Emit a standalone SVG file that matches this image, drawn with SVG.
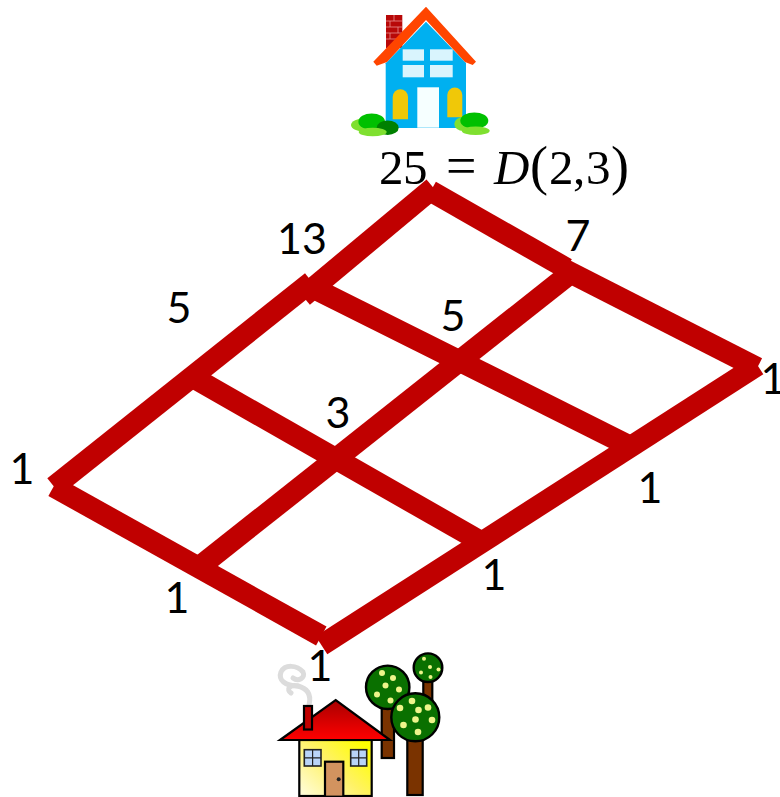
<svg xmlns="http://www.w3.org/2000/svg" width="780" height="797" viewBox="0 0 780 797">
<style>
.n{font-family:"Lato","Open Sans",sans-serif;font-size:43px;fill:#000;text-anchor:middle}
.f{font-family:"Liberation Serif",serif;font-size:49px;fill:#000}
.g{fill:none;stroke:#c00000;stroke-width:21.5;stroke-linecap:butt}
.o{stroke:#000;stroke-width:2.2}
.t{fill:#7a3300;stroke:#000;stroke-width:2.2}
.c{fill:#0a7000;stroke:#000;stroke-width:2.4}
.d{fill:#eef58a}
.w{fill:#b9d4f8;stroke:#222;stroke-width:1.6}
.s{fill:none;stroke:#dcdcdc;stroke-width:5;stroke-linecap:round}
</style>
<defs>
<linearGradient id="roofFill" x1="0" y1="1" x2="0" y2="0"><stop offset="0" stop-color="#ff0000"/><stop offset="1" stop-color="#a80000"/></linearGradient>
<linearGradient id="wallFill" x1="0" y1="1" x2="1" y2="0.2"><stop offset="0" stop-color="#fffde0"/><stop offset="0.55" stop-color="#fff266"/><stop offset="1" stop-color="#ffff00"/></linearGradient>
</defs>

<g id="blue-house">
  <rect x="386" y="15" width="16.3" height="33" fill="#b80808"/>
  <path d="M386 21H402M386 27H402M386 33H402M386 39H402M394 15V21M390 21V27M398 27V33M390 33V39M396 39V46" stroke="#e89090" stroke-width="0.8" fill="none"/>
  <polygon points="385.7,63.3 426,21.7 466,63 466,128 385.7,128" fill="#00b0f0"/>
  <polygon points="426,6.7 476,61.7 472.7,65 465,62 426,20 387,62 376.7,65.7 373.3,61.7" fill="#ff4500"/>
  <g fill="#d9f4fd">
    <rect x="402.7" y="49.3" width="21.3" height="11.4"/>
    <rect x="430" y="49.3" width="22.7" height="11.4"/>
    <rect x="402.7" y="65" width="21.3" height="12.3"/>
    <rect x="430" y="65" width="22.7" height="12.3"/>
  </g>
  <rect x="417.3" y="87.3" width="21.7" height="40.4" fill="#f6ffff"/>
  <path d="M392.7 119.3V97a7.6 7.6 0 0 1 15.3 0V119.3Z" fill="#f0c808"/>
  <path d="M447.3 117.3V95a7.5 7.5 0 0 1 15 0V117.3Z" fill="#f0c808"/>
  <ellipse cx="365" cy="125" rx="14" ry="6.7" fill="#7fe030"/>
  <ellipse cx="371.7" cy="121.7" rx="13.3" ry="8.3" fill="#00c000"/>
  <ellipse cx="387.7" cy="127.7" rx="11" ry="7.3" fill="#008000"/>
  <ellipse cx="372.7" cy="132" rx="14" ry="4.3" fill="#7fe030"/>
  <ellipse cx="463.3" cy="124" rx="9" ry="7" fill="#7fe030"/>
  <ellipse cx="474.3" cy="120.7" rx="14" ry="8.3" fill="#00c000"/>
  <ellipse cx="475.7" cy="130.7" rx="14" ry="4.3" fill="#7fe030"/>
</g>

<g id="formula">
  <text class="f" y="184"><tspan x="379 403">25</tspan><tspan x="446" font-size="54">=</tspan><tspan x="494" font-style="italic">D</tspan><tspan x="530" font-size="54">(</tspan><tspan x="549">2</tspan><tspan x="573">,</tspan><tspan x="586">3</tspan><tspan x="611" font-size="54">)</tspan></text>
</g>

<g id="grid-connectors">
  <line class="g" x1="54" y1="486.7" x2="311.7" y2="281.7"/>
  <line class="g" x1="303" y1="296.5" x2="433.4" y2="187.7"/>
  <line class="g" x1="430.6" y1="191" x2="566.5" y2="268.5"/>
  <line class="g" x1="562" y1="268.3" x2="757.2" y2="367.8"/>
  <line class="g" x1="757.5" y1="365.3" x2="321.5" y2="645.2"/>
  <line class="g" x1="321.3" y1="636" x2="53.6" y2="486.6"/>
  <line class="g" x1="318" y1="290.35" x2="630" y2="446.35"/>
  <line class="g" x1="190" y1="375.6" x2="478" y2="540"/>
  <line class="g" x1="203" y1="564" x2="572" y2="272"/>
</g>

<g id="labels">
  <text class="n" x="302" y="254">13</text>
  <text class="n" x="179" y="323">5</text>
  <text class="n" x="578" y="251">7</text>
  <text class="n" x="453" y="331">5</text>
  <text class="n" x="338" y="428">3</text>
  <text class="n" x="22" y="484">1</text>
  <text class="n" x="177" y="613">1</text>
  <text class="n" x="320" y="681">1</text>
  <text class="n" x="494" y="590">1</text>
  <text class="n" x="650" y="503">1</text>
  <text class="n" x="773" y="394">1</text>
</g>

<g id="yellow-house">
  <path class="s" d="M309 705C312 693 306 688 298 686C289 684 286 690 291 693"/>
  <path class="s" d="M298 686C285 686 278 680 281 672C285 664 297 665 303 672C306 678 298 682 293 678"/>
  <rect class="t" x="381.7" y="708" width="12.3" height="50"/>
  <rect class="t" x="423.3" y="681.7" width="9" height="20"/>
  <circle class="c" cx="428" cy="667.7" r="14.3"/>
  <g class="d"><circle cx="424" cy="658.7" r="2"/><circle cx="430" cy="667" r="2"/><circle cx="421" cy="672.5" r="2"/><circle cx="430.5" cy="677" r="2"/><circle cx="438.5" cy="669.5" r="2"/></g>
  <circle class="c" cx="387.7" cy="687.3" r="21.7"/>
  <g class="d"><circle cx="382" cy="673" r="3"/><circle cx="393" cy="678" r="3"/><circle cx="385.5" cy="685.5" r="3"/><circle cx="399" cy="689.5" r="3"/><circle cx="377" cy="694.5" r="3"/><circle cx="390.5" cy="700.5" r="3"/></g>
  <rect class="t" x="407.3" y="738" width="15.4" height="57"/>
  <circle class="c" cx="415.3" cy="717.3" r="24"/>
  <g class="d"><circle cx="400" cy="708" r="3.3"/><circle cx="412" cy="701" r="3.3"/><circle cx="418.5" cy="710" r="3.3"/><circle cx="428" cy="707.5" r="3.3"/><circle cx="415.5" cy="719.5" r="3.3"/><circle cx="432" cy="720" r="3.3"/><circle cx="403.5" cy="725" r="3.3"/><circle cx="418" cy="732" r="3.3"/></g>
  <rect class="o" x="299.3" y="740" width="72.4" height="56" fill="url(#wallFill)"/>
  <polygon class="o" points="280,740 335.7,700 390,740" fill="url(#roofFill)"/>
  <rect class="o" x="304" y="706" width="8" height="23.5" fill="#c00000"/>
  <rect class="w" x="304.3" y="749.7" width="16.7" height="16.3"/>
  <path d="M312.6 749.7V766M304.3 757.8H321" stroke="#222" stroke-width="1.2"/>
  <rect class="w" x="350.7" y="749.7" width="16" height="16.3"/>
  <path d="M358.7 749.7V766M350.7 757.8H366.7" stroke="#222" stroke-width="1.2"/>
  <rect class="o" x="325" y="761.7" width="18.3" height="35" fill="#d2935f"/>
  <circle cx="338.7" cy="779.3" r="2" fill="#222"/>
</g>
</svg>
